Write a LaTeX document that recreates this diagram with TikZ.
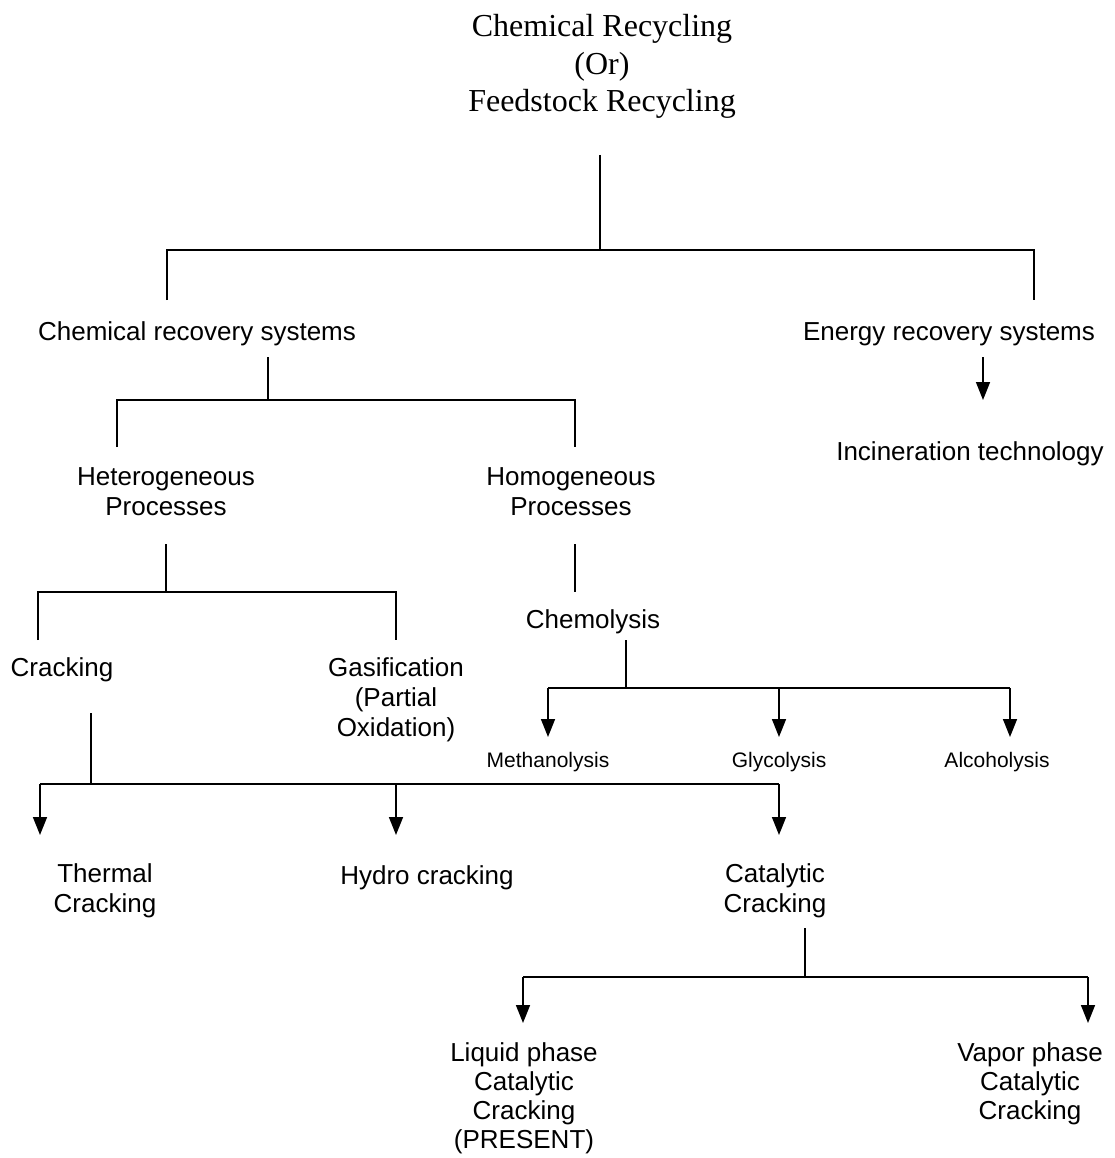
\documentclass[tikz,border=0pt]{standalone}
\usepackage{fontspec}
\setmainfont{Liberation Serif}
\setsansfont{Liberation Sans}
\usetikzlibrary{arrows.meta}

\tikzset{
  lbl/.style={font=\sffamily\fontsize{26}{30}\selectfont, align=center,
              anchor=base, inner sep=0pt},
  small/.style={font=\sffamily\fontsize{21}{25}\selectfont,
                anchor=base, inner sep=0pt},
  branch/.style={line width=1.6pt},
  down/.style={line width=1.6pt, -{Triangle[length=18pt,width=14pt]}},
}

\begin{document}
\begin{tikzpicture}[x=1pt, y=-1pt]
    \useasboundingbox (0,0) rectangle (1114,1158);
    % title (base = last line)
    \node[font=\fontsize{32}{37.5}\selectfont, align=center, anchor=base,
          inner sep=0pt] (root) at (602,112)
         {Chemical Recycling\\(Or)\\Feedstock Recycling};
    % level 1
    \node[lbl] (chem)   at (197,340) {Chemical recovery systems};
    \node[lbl] (energy) at (949,340) {Energy recovery systems};
    \node[lbl] (incin)  at (970,460) {Incineration technology};
    % level 2
    \node[lbl] (hetero) at (166,515) {Heterogeneous\\Processes};
    \node[lbl] (homo)   at (571,515) {Homogeneous\\Processes};
    \node[lbl] (chemo)  at (593,628) {Chemolysis};
    \node[lbl] (crack)  at (62,676)  {Cracking};
    \node[lbl] (gasi)   at (396,736) {Gasification\\(Partial\\Oxidation)};
    \node[small] (meth) at (548,767) {Methanolysis};
    \node[small] (glyc) at (779,767) {Glycolysis};
    \node[small] (alco) at (997,767) {Alcoholysis};
    % cracking routes
    \node[lbl] (thermal) at (105,912) {Thermal\\Cracking};
    \node[lbl] (hydro)   at (427,884) {Hydro cracking};
    \node[lbl] (cat)     at (775,912) {Catalytic\\Cracking};
    \node[lbl, font=\sffamily\fontsize{26}{29}\selectfont] (liquid)
         at (524,1148) {Liquid phase\\Catalytic\\Cracking\\(PRESENT)};
    \node[lbl, font=\sffamily\fontsize{26}{29}\selectfont] (vapor)
         at (1030,1119) {Vapor phase\\Catalytic\\Cracking};

    % stems, bars and drops
    \coordinate (rootStem)  at (600,155);
    \coordinate (rootBar)   at (600,250);
    \coordinate (chemTop)   at (167,300);
    \coordinate (energyTop) at (1034,300);
    \draw[branch] (rootStem) -- (rootBar);
    \draw[branch] (chemTop) |- (rootBar) -| (energyTop);

    \coordinate (chemStem)  at (268,357);
    \coordinate (chemBar)   at (268,400);
    \coordinate (heteroTop) at (117,447);
    \coordinate (homoTop)   at (575,447);
    \draw[branch] (chemStem) -- (chemBar);
    \draw[branch] (heteroTop) |- (chemBar) -| (homoTop);

    \coordinate (energyStem) at (983,357);
    \coordinate (incinTip)   at (983,400);
    \draw[down] (energyStem) -- (incinTip);

    \coordinate (heteroStem) at (166,544);
    \coordinate (heteroBar)  at (166,592);
    \coordinate (crackTop)   at (38,640);
    \coordinate (gasiTop)    at (396,640);
    \draw[branch] (heteroStem) -- (heteroBar);
    \draw[branch] (crackTop) |- (heteroBar) -| (gasiTop);

    \coordinate (homoStem) at (575,544);
    \coordinate (chemoTop) at (575,592);
    \draw[branch] (homoStem) -- (chemoTop);

    \coordinate (chemoStem) at (626,640);
    \coordinate (chemoBar)  at (626,688);
    \coordinate (methTip)   at (548,737);
    \coordinate (glycTip)   at (779,737);
    \coordinate (alcoTip)   at (1010,737);
    \draw[branch] (chemoStem) -- (chemoBar);
    \draw[branch] (methTip |- chemoBar) -- (alcoTip |- chemoBar);
    \foreach \t in {methTip,glycTip,alcoTip}
        \draw[down] (\t |- chemoBar) -- (\t);

    \coordinate (crackStem)  at (91,713);
    \coordinate (crackBar)   at (91,784);
    \coordinate (thermalTip) at (40,835);
    \coordinate (hydroTip)   at (396,835);
    \coordinate (catTip)     at (779,835);
    \draw[branch] (crackStem) -- (crackBar);
    \draw[branch] (thermalTip |- crackBar) -- (catTip |- crackBar);
    \foreach \t in {thermalTip,hydroTip,catTip}
        \draw[down] (\t |- crackBar) -- (\t);

    \coordinate (catStem)   at (805,928);
    \coordinate (catBar)    at (805,977);
    \coordinate (liquidTip) at (523,1023);
    \coordinate (vaporTip)  at (1088,1023);
    \draw[branch] (catStem) -- (catBar);
    \draw[branch] (liquidTip |- catBar) -- (vaporTip |- catBar);
    \foreach \t in {liquidTip,vaporTip}
        \draw[down] (\t |- catBar) -- (\t);
\end{tikzpicture}
\end{document}
